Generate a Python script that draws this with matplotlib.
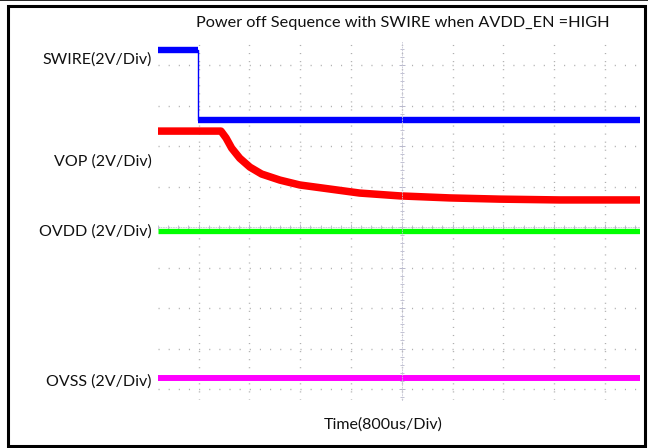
import matplotlib.pyplot as plt
from matplotlib.ticker import MultipleLocator
from matplotlib.patches import Rectangle
from matplotlib.lines import Line2D

plt.rcParams['font.family'] = ['Lato', 'DejaVu Sans']

# time in divisions (800us/div), 0 = centre graticule line
# levels in divisions (2V/div), 0 = centre row
swire_t = [-4.80, -4.02, -4.02, 4.69]
swire_v = [4.37, 4.37, 2.64, 2.64]

vop_t = [-4.80, -3.56, -3.46, -3.35, -3.19, -2.99, -2.76, -2.40, -2.01, -1.42, -0.83, -0.04, 0.94, 1.93, 3.11, 4.69]
vop_v = [2.37, 2.37, 2.20, 1.95, 1.70, 1.48, 1.31, 1.16, 1.04, 0.94, 0.84, 0.77, 0.72, 0.69, 0.67, 0.67]

ovdd_t = [-4.80, 4.69]
ovdd_v = [-0.10, -0.10]

ovss_t = [-4.80, 4.69]
ovss_v = [-3.73, -3.73]

labels = ["SWIRE(2V/Div)", "VOP (2V/Div)", "OVDD (2V/Div)", "OVSS (2V/Div)"]
label_y = [60, 162, 232, 382]   # pixel rows of the channel labels

W, H = 648, 448
fig = plt.figure(figsize=(W / 100, H / 100), dpi=100)
ax = fig.add_axes([158 / W, 1 - 400 / H, 482 / W, 358 / H])
ax.set_xlim(-4.80, 4.69)
ax.set_ylim(-4.27, 4.57)

# graticule
ax.xaxis.set_major_locator(MultipleLocator(1))
ax.yaxis.set_major_locator(MultipleLocator(1))
ax.xaxis.set_minor_locator(MultipleLocator(0.2))
ax.yaxis.set_minor_locator(MultipleLocator(0.2))
ax.grid(axis='x', color='#b0b0b0', linewidth=1, linestyle=(0, (0.8, 5.0)))
ax.grid(axis='y', color='#b0b0b0', linewidth=1, linestyle=(0, (0.8, 6.5)))
ax.set_axisbelow(True)
for s in ['top', 'right']:
    ax.spines[s].set_visible(False)
ax.spines['left'].set_position(('data', 0))
ax.spines['bottom'].set_position(('data', 0))
for s in ['left', 'bottom']:
    ax.spines[s].set_color('#c4c4d4')
    ax.spines[s].set_linewidth(0.6)
    ax.spines[s].set_linestyle((0, (1, 2)))
ax.tick_params(which='both', direction='inout', colors='#b8b8cc', labelleft=False, labelbottom=False)
ax.tick_params(which='major', length=5, width=0.7)
ax.tick_params(which='minor', length=3, width=0.6)
ax.set_facecolor('none')

# traces
ax.plot(swire_t, swire_v, color='#0000ff', linewidth=1)
ax.plot(swire_t[:2], swire_v[:2], color='#0000ff', linewidth=4.6, solid_capstyle='butt')
ax.plot(swire_t[2:], swire_v[2:], color='#0000ff', linewidth=4.6, solid_capstyle='butt')
ax.plot(vop_t, vop_v, color='#ff0000', linewidth=5.4, solid_capstyle='butt', solid_joinstyle='round')
ax.plot(ovdd_t, ovdd_v, color='#00ff00', linewidth=3.8, solid_capstyle='butt')
ax.plot(ovss_t, ovss_v, color='#ff00ff', linewidth=4.3, solid_capstyle='butt')

# texts
fig.text(403 / W, 1 - 23 / H, "Power off Sequence with SWIRE when AVDD_EN =HIGH",
         ha='center', va='center', fontsize=11.7, color='#111111')
for lab, yy in zip(labels, label_y):
    fig.text(152 / W, 1 - yy / H, lab, ha='right', va='center', fontsize=11.5, color='#111111')
fig.text(383 / W, 1 - 425 / H, "Time(800us/Div)", ha='center', va='center', fontsize=11.5, color='#111111')

# page frame
fig.add_artist(Line2D([0, 1], [1 - 0.5 / H, 1 - 0.5 / H], color='black', linewidth=1.2))
fig.add_artist(Rectangle((8 / W, 1 - 446 / H), 637 / W, 440 / H, fill=False,
                         edgecolor='black', linewidth=2.2, transform=fig.transFigure))

fig.savefig("out.png", dpi=100)
